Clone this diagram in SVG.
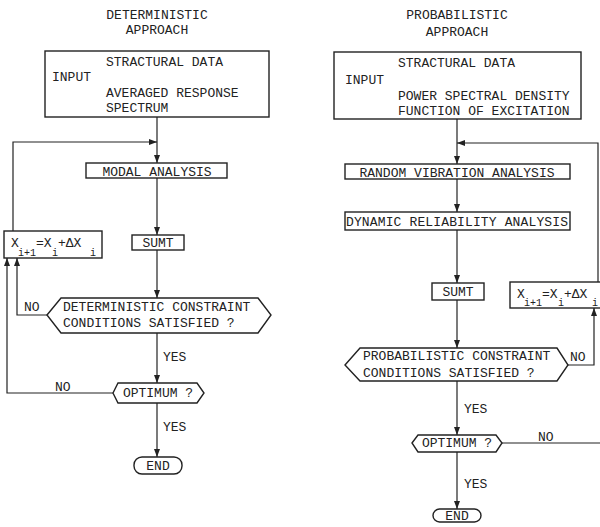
<svg xmlns="http://www.w3.org/2000/svg" width="600" height="527" viewBox="0 0 600 527">
<style>
text{font-family:"Liberation Mono","DejaVu Sans Mono",monospace;font-size:13px;fill:#222}
.c{text-anchor:middle}
.sub{font-size:10px}
.box{fill:#fff;stroke:#222;stroke-width:1.4}
.ln{fill:none;stroke:#222;stroke-width:1.2}
</style>
<defs>
<marker id="ah" viewBox="0 0 8 6" refX="8" refY="3" markerWidth="8" markerHeight="6" markerUnits="userSpaceOnUse" orient="auto">
<path d="M0,0 L8,3 L0,6 z" fill="#222"/>
</marker>
</defs>
<rect width="600" height="527" fill="#fff"/>

<g id="connectors">
<path class="ln" d="M157,117 V163" marker-end="url(#ah)"/>
<path class="ln" d="M13,231 V142 H157" marker-end="url(#ah)"/>
<path class="ln" d="M157,178 V235" marker-end="url(#ah)"/>
<path class="ln" d="M157,250 V298" marker-end="url(#ah)"/>
<path class="ln" d="M47,315 H17 V258" marker-end="url(#ah)"/>
<path class="ln" d="M157,333 V383" marker-end="url(#ah)"/>
<path class="ln" d="M113,393 H7 V258" marker-end="url(#ah)"/>
<path class="ln" d="M157,403 V457" marker-end="url(#ah)"/>

<path class="ln" d="M457,119 V164" marker-end="url(#ah)"/>
<path class="ln" d="M598,282 V143 H457" marker-end="url(#ah)"/>
<path class="ln" d="M457,179 V212" marker-end="url(#ah)"/>
<path class="ln" d="M457,230 V283" marker-end="url(#ah)"/>
<path class="ln" d="M457,300 V348" marker-end="url(#ah)"/>
<path class="ln" d="M568,365 H594 V308" marker-end="url(#ah)"/>
<path class="ln" d="M457,381 V435" marker-end="url(#ah)"/>
<path class="ln" d="M502,443 H600"/>
<path class="ln" d="M457,452 V509" marker-end="url(#ah)"/>

<text x="24" y="311">NO</text>
<text x="55" y="391">NO</text>
<text x="163" y="361">YES</text>
<text x="163" y="431">YES</text>
<text x="570" y="361">NO</text>
<text x="538" y="441">NO</text>
<text x="464" y="413">YES</text>
<text x="464" y="488">YES</text>
</g>

<g id="title-det">
<text class="c" x="157" y="19">DETERMINISTIC</text>
<text class="c" x="157" y="34">APPROACH</text>
</g>
<g id="title-prob">
<text class="c" x="457" y="19">PROBABILISTIC</text>
<text class="c" x="457" y="36">APPROACH</text>
</g>

<g id="input-det">
<rect class="box" x="45" y="51" width="224" height="66"/>
<text x="106" y="66">STRACTURAL DATA</text>
<text x="52" y="81">INPUT</text>
<text x="106" y="97">AVERAGED RESPONSE</text>
<text x="106" y="112">SPECTRUM</text>
</g>

<g id="modal">
<rect class="box" x="86" y="163" width="141" height="15"/>
<text class="c" x="157" y="176">MODAL ANALYSIS</text>
</g>

<g id="sumt-det">
<rect class="box" x="132" y="235" width="52" height="15"/>
<text class="c" x="158" y="247">SUMT</text>
</g>

<g id="update-det">
<rect class="box" x="4" y="231" width="98" height="27"/>
<text x="11" y="247">X</text>
<text class="sub" x="18" y="256">i+1</text>
<text x="36" y="247">=X</text>
<text class="sub" x="52" y="256">i</text>
<text x="58" y="247">+ΔX</text>
<text class="sub" x="90" y="256">i</text>
</g>

<g id="check-det">
<path class="box" d="M47,315 L61,298 H258 L271,315 L258,333 H61 Z"/>
<text x="63" y="311">DETERMINISTIC CONSTRAINT</text>
<text x="63" y="327">CONDITIONS SATISFIED ?</text>
</g>

<g id="optimum-det">
<path class="box" d="M113,393 L118,383 H197 L204,393 L197,403 H118 Z"/>
<text class="c" x="158" y="397">OPTIMUM ?</text>
</g>

<g id="end-det">
<rect class="box" x="134" y="457" width="48" height="17" rx="8"/>
<text class="c" x="158" y="470">END</text>
</g>

<g id="input-prob">
<rect class="box" x="334" y="52" width="247" height="67"/>
<text x="398" y="67">STRACTURAL DATA</text>
<text x="345" y="84">INPUT</text>
<text x="398" y="100">POWER SPECTRAL DENSITY</text>
<text x="398" y="115">FUNCTION OF EXCITATION</text>
</g>

<g id="random">
<rect class="box" x="345" y="164" width="225" height="15"/>
<text class="c" x="457" y="177">RANDOM VIBRATION ANALYSIS</text>
</g>

<g id="reliability">
<rect class="box" x="345" y="212" width="225" height="18"/>
<text class="c" x="457" y="226" textLength="222" lengthAdjust="spacing">DYNAMIC RELIABILITY ANALYSIS</text>
</g>

<g id="sumt-prob">
<rect class="box" x="432" y="283" width="52" height="17"/>
<text class="c" x="458" y="296">SUMT</text>
</g>

<g id="update-prob">
<rect class="box" x="510" y="282" width="100" height="26"/>
<text x="517" y="298">X</text>
<text class="sub" x="524" y="306">i+1</text>
<text x="542" y="298">=X</text>
<text class="sub" x="558" y="306">i</text>
<text x="564" y="298">+ΔX</text>
<text class="sub" x="592" y="306">i</text>
</g>

<g id="check-prob">
<path class="box" d="M345,365 L360,348 H557 L568,365 L557,381 H360 Z"/>
<text x="363" y="360">PROBABILISTIC CONSTRAINT</text>
<text x="363" y="377">CONDITIONS SATISFIED ?</text>
</g>

<g id="optimum-prob">
<path class="box" d="M412,443 L418,435 H496 L502,443 L496,452 H418 Z"/>
<text class="c" x="457" y="447">OPTIMUM ?</text>
</g>

<g id="end-prob">
<rect class="box" x="433" y="509" width="48" height="13" rx="6.5"/>
<text class="c" x="457" y="520">END</text>
</g>
</svg>
